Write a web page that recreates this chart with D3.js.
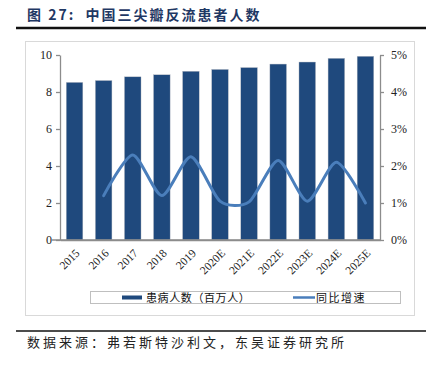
<!DOCTYPE html>
<html><head><meta charset="utf-8">
<script src="https://cdn.jsdelivr.net/npm/d3@7"></script>
<style>body{margin:0;background:#fff}svg{display:block}</style>
</head><body><svg id="c" width="434" height="367"></svg>
<script>
const categories = ["2015","2016","2017","2018","2019","2020E","2021E","2022E","2023E","2024E","2025E"];
const patients = [8.52, 8.62, 8.82, 8.93, 9.12, 9.22, 9.32, 9.51, 9.62, 9.82, 9.93];
const growthYears = ["2016","2017","2018","2019","2020E","2021E","2022E","2023E","2024E","2025E"];
const growth = [0.012, 0.023, 0.012, 0.0225, 0.0105, 0.0103, 0.0215, 0.0105, 0.021, 0.010];
const leftTicks = [0,2,4,6,8,10];
const rightTicks = [0,0.01,0.02,0.03,0.04,0.05];
const title = "图 27:  中国三尖瓣反流患者人数";
const source = "数据来源：弗若斯特沙利文，东吴证券研究所";
const legendLabels = ["患病人数（百万人）","同比增速"];

const svg = d3.select("#c");
const barColor = "#1f497d", lineColor = "#4a7ebb", axisColor = "#8c8c8c";
const cjk = "'Noto Sans CJK SC', sans-serif";
const serif = "'Liberation Serif', 'Times New Roman', serif";

// header
svg.append("text").attr("x",27).attr("y",20).attr("font-family",cjk).attr("font-weight","bold")
  .attr("font-size",14).attr("letter-spacing",2).attr("fill","#1f3864").attr("xml:space","preserve").style("white-space","pre").text(title);
svg.append("line").attr("x1",16).attr("x2",426).attr("y1",28).attr("y2",28).attr("stroke","#111").attr("stroke-width",2.5);
svg.append("rect").attr("x",25.5).attr("y",41.5).attr("width",389).attr("height",274).attr("fill","none").attr("stroke","#d9d9d9");

const L=60,R=380,T=55,B=240;
const x = d3.scaleBand().domain(categories).range([L,R]).paddingInner(0.43).paddingOuter(0.215);
const y = d3.scaleLinear().domain([0,10]).range([B,T]);
const y2 = d3.scaleLinear().domain([0,0.05]).range([B,T]);

svg.append("g").selectAll("rect").data(categories).join("rect")
  .attr("x",d=>x(d)).attr("width",x.bandwidth())
  .attr("y",(d,i)=>y(patients[i])).attr("height",(d,i)=>B-y(patients[i]))
  .attr("fill",barColor).attr("stroke","#b8bcc4").attr("stroke-width",0.4);

const line = d3.line().x((d,i)=>x(growthYears[i])+x.bandwidth()/2).y(d=>y2(d)).curve(d3.curveCardinal.tension(0.25));
svg.append("path").datum(growth).attr("d",line).attr("fill","none").attr("stroke",lineColor).attr("stroke-width",3).attr("stroke-linecap","round");

// axes
const ga = svg.append("g").attr("transform",`translate(${L},0)`)
  .call(d3.axisLeft(y).tickValues(leftTicks).tickSize(4).tickPadding(4).tickSizeOuter(0));
const gb = svg.append("g").attr("transform",`translate(${R},0)`)
  .call(d3.axisRight(y2).tickValues(rightTicks).tickFormat(d3.format(".0%")).tickSize(4).tickPadding(7).tickSizeOuter(0));
const gx = svg.append("g").attr("transform",`translate(0,${B})`)
  .call(d3.axisBottom(x).tickSize(0).tickSizeOuter(0).tickPadding(0));
[ga,gb,gx].forEach(g=>{
  g.selectAll("path,line").attr("stroke",axisColor).attr("stroke-width",1.3);
  g.selectAll("text").attr("font-family",serif).attr("font-size",12).attr("fill","#222");
});
svg.append("line").attr("x1",L-8).attr("x2",R).attr("y1",B).attr("y2",B).attr("stroke",axisColor).attr("stroke-width",1.3);
gx.selectAll("text").attr("font-size",11.5).attr("text-anchor","end")
  .attr("transform","translate(3,11) rotate(-45)").attr("dy","0.35em").attr("y",0).attr("x",0);

// legend
svg.append("rect").attr("x",90.5).attr("y",291.5).attr("width",310).attr("height",12).attr("fill","none").attr("stroke","#bfbfbf");
svg.append("rect").attr("x",122).attr("y",295.5).attr("width",20).attr("height",4).attr("fill",barColor);
svg.append("text").attr("x",146).attr("y",302).attr("font-family",cjk).attr("font-size",11).attr("letter-spacing",0.6).attr("fill","#111").text(legendLabels[0]);
svg.append("line").attr("x1",293).attr("x2",315).attr("y1",297.5).attr("y2",297.5).attr("stroke",lineColor).attr("stroke-width",2.5);
svg.append("text").attr("x",316).attr("y",302).attr("font-family",cjk).attr("font-size",11).attr("letter-spacing",1.5).attr("fill","#111").text(legendLabels[1]);

// footer
svg.append("line").attr("x1",16).attr("x2",426).attr("y1",331).attr("y2",331).attr("stroke","#111").attr("stroke-width",1.5);
svg.append("text").attr("x",27).attr("y",347).attr("font-family",cjk).attr("font-size",13).attr("letter-spacing",3).attr("fill","#222").text(source);
</script></body></html>
